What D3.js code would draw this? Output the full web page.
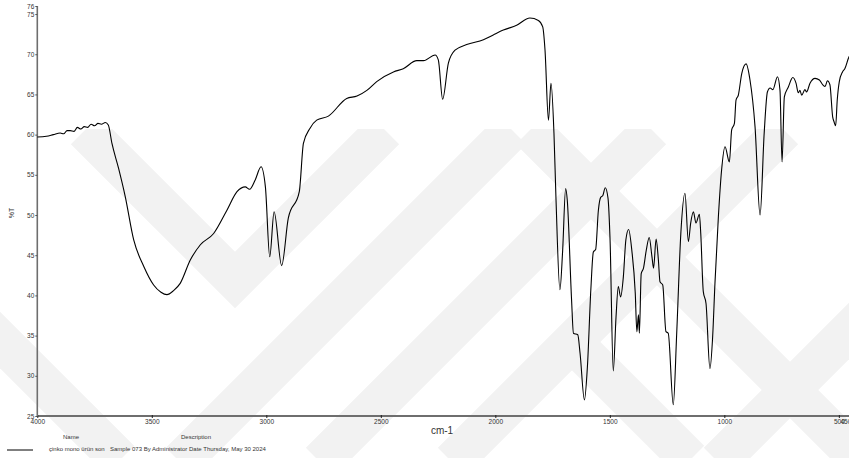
<!DOCTYPE html>
<html>
<head>
<meta charset="utf-8">
<script src="https://cdn.jsdelivr.net/npm/d3@7"></script>
<style>
  body { margin: 0; background: #fff; }
  svg { display: block; font-family: "Liberation Sans", Arial, sans-serif; }
</style>
</head>
<body>
<div id="chart"></div>
<script>
// data
const wavenumbers = [
  4000, 3960, 3930, 3900, 3885, 3870, 3856, 3840, 3825, 3810, 3795, 3780, 3765, 3750, 3735, 3720,
  3703, 3690, 3674, 3645, 3616, 3579, 3535, 3492, 3460, 3434, 3405, 3376, 3332, 3288, 3230, 3172,
  3128, 3092, 3073, 3048, 3023, 3004, 2985, 2966, 2933, 2904, 2856, 2838, 2809, 2780, 2729, 2649,
  2604, 2561, 2518, 2445, 2402, 2343, 2314, 2263, 2249, 2230, 2205, 2176, 2125, 2052, 2009, 1965,
  1907, 1849, 1812, 1793, 1783, 1768, 1757, 1744, 1735, 1718, 1706, 1693, 1686, 1667, 1659, 1640,
  1630, 1611, 1598, 1583, 1572, 1562, 1550, 1540, 1531, 1520, 1508, 1499, 1485, 1473, 1463, 1453,
  1441, 1430, 1418, 1404, 1389, 1382, 1375, 1371, 1363, 1353, 1341, 1328, 1316, 1309, 1298, 1288,
  1281, 1269, 1255, 1245, 1223, 1208, 1190, 1172, 1157, 1147, 1135, 1124, 1109, 1103, 1092, 1080,
  1063, 1051, 1041, 1026, 1012, 997, 978, 968, 956, 949, 939, 924, 905, 888, 866, 844,
  826, 812, 800, 788, 768, 757, 748, 738, 721, 701, 687, 677, 670, 662, 648, 641,
  626, 604, 585, 570, 560, 550, 539, 527, 521, 514, 507, 498, 484, 474, 455, 450
];
const transmittance = [
  59.7, 59.8, 60.0, 60.2, 60.1, 60.5, 60.5, 60.4, 60.9, 60.7, 61.0, 60.9, 61.3, 61.1, 61.4, 61.3,
  61.5, 61.2, 58.9, 55.8, 52.3, 46.9, 43.6, 41.3, 40.4, 40.1, 40.6, 41.5, 44.4, 46.3, 47.7, 50.6,
  52.9, 53.5, 53.2, 54.4, 56.0, 53.5, 44.8, 50.4, 43.7, 49.6, 52.9, 58.9, 60.8, 61.8, 62.3, 64.5,
  64.8, 65.5, 66.6, 67.8, 68.2, 69.2, 69.2, 69.9, 69.3, 64.4, 68.9, 70.5, 71.2, 71.8, 72.4, 73.0,
  73.6, 74.5, 74.2, 73.4, 70.5, 61.8, 66.4, 60.2, 51.9, 40.7, 45.6, 53.3, 51.9, 39.4, 35.3, 35.1,
  32.8, 27.0, 31.1, 40.7, 45.4, 45.7, 50.6, 52.2, 52.4, 53.4, 52.1, 46.9, 30.6, 37.3, 41.1, 39.8,
  42.3, 46.9, 48.2, 45.6, 40.3, 35.5, 37.6, 35.3, 42.7, 43.4, 45.6, 47.2, 44.8, 43.4, 47.0, 44.4,
  41.7, 41.3, 35.5, 35.3, 26.4, 35.3, 47.7, 52.7, 46.7, 49.0, 50.4, 49.0, 50.1, 47.7, 40.5, 39.0,
  30.9, 34.9, 41.5, 49.8, 55.6, 58.5, 56.6, 60.6, 61.4, 64.3, 64.9, 67.6, 68.8, 66.8, 61.0, 50.0,
  60.2, 65.3, 65.8, 65.6, 67.2, 65.5, 56.6, 64.7, 65.9, 67.1, 66.4, 65.2, 65.5, 64.9, 65.6, 65.3,
  66.4, 67.0, 66.8, 66.2, 66.0, 66.7, 66.2, 62.2, 61.6, 61.1, 64.3, 66.6, 67.8, 68.2, 69.7, 69.9
];
const xTickValues = [4000, 3500, 3000, 2500, 2000, 1500, 1000, 500];
const yTickValues = [25, 30, 35, 40, 45, 50, 55, 60, 65, 70, 75, 76];
const sampleName = "çinko mono ürün son";
const sampleDesc = "Sample 073 By Administrator Date Thursday, May 30 2024";

// constants
const w = 849;
const h = 458;
const axisColor = "#6e6e6e";
const textColor = "#333";

const svg = d3.select("#chart").append("svg")
  .attr("width", w)
  .attr("height", h);

// watermark bands (faint thesis stamp in the background)
svg.append("clipPath").attr("id", "wm")
  .append("rect").attr("x", 0).attr("y", 129).attr("width", w).attr("height", h - 129);
const wm = svg.append("g").attr("clip-path", "url(#wm)")
  .attr("fill", "none").attr("stroke", "#f2f2f2").attr("stroke-width", 40);
const bands = [
  [[85, 130], [235, 280], [385, 130]],
  [[512, 130], [180, 462]],
  [[652, 130], [320, 462]],
  [[784, 130], [452, 462]],
  [[-40, 300], [120, 460]],
  [[530, 130], [860, 460]],
  [[560, 330], [690, 460]],
  [[880, 300], [718, 462]]
];
bands.forEach((b) => wm.append("path").attr("d", d3.line()(b)));

// scales
const xScale = d3.scaleLinear().domain([4000, 450]).range([37.3, 850.3]);
const yScale = d3.scaleLinear().domain([25, 76]).range([416, 6]);

// axes
const xAxis = d3.axisBottom(xScale).tickValues(xTickValues).tickSize(3).tickPadding(1)
  .tickFormat(d3.format("d"));
const yAxis = d3.axisLeft(yScale).tickValues(yTickValues).tickSize(2).tickPadding(1)
  .tickFormat(d3.format("d"));

const gx = svg.append("g").attr("transform", "translate(0,416)").call(xAxis);
gx.select(".domain").attr("stroke", axisColor).attr("stroke-width", 2.2).attr("d", "M37,0H849");
gx.selectAll(".tick line").attr("stroke", "#222").attr("y1", -1).attr("y2", 2);
gx.selectAll(".tick text").attr("fill", textColor).attr("font-size", 6.5).attr("dy", "0.6em");
// last label 450 sits at the edge and is cut by the window
gx.append("text").attr("x", xScale(500) + 7).attr("y", 4).attr("dy", "0.6em")
  .attr("fill", textColor).attr("font-size", 6.5).text("450");

const gy = svg.append("g").attr("transform", "translate(37.3,0)").call(yAxis);
gy.select(".domain").attr("stroke", axisColor).attr("stroke-width", 1.6).attr("d", "M0,6V416");
gy.selectAll(".tick line").attr("stroke", "#555");
gy.selectAll(".tick text").attr("fill", textColor).attr("font-size", 6.5);

// axis titles
svg.append("text").attr("x", 442).attr("y", 434).attr("text-anchor", "middle")
  .attr("font-size", 10).attr("fill", textColor).text("cm-1");
svg.append("text").attr("transform", "translate(14,213) rotate(-90)")
  .attr("text-anchor", "middle").attr("font-size", 7).attr("fill", textColor).text("%T");

// spectrum
const points = wavenumbers.map((d, i) => [d, transmittance[i]]);
svg.append("path")
  .datum(points)
  .attr("fill", "none")
  .attr("stroke", "#000")
  .attr("stroke-width", 1.1)
  .attr("stroke-linejoin", "round")
  .attr("d", d3.line()
    .x((d) => xScale(d[0]))
    .y((d) => yScale(d[1]))
    .curve(d3.curveMonotoneX));

// legend
const lg = svg.append("g").attr("font-size", 6).attr("fill", textColor);
lg.append("line").attr("x1", 7).attr("x2", 33).attr("y1", 450).attr("y2", 450)
  .attr("stroke", "#000").attr("stroke-width", 1);
lg.append("text").attr("x", 71).attr("y", 439).attr("text-anchor", "middle").text("Name");
lg.append("text").attr("x", 196).attr("y", 439).attr("text-anchor", "middle").text("Description");
lg.append("text").attr("x", 49).attr("y", 451).text(sampleName);
lg.append("text").attr("x", 110).attr("y", 451).text(sampleDesc);
</script>
</body>
</html>
